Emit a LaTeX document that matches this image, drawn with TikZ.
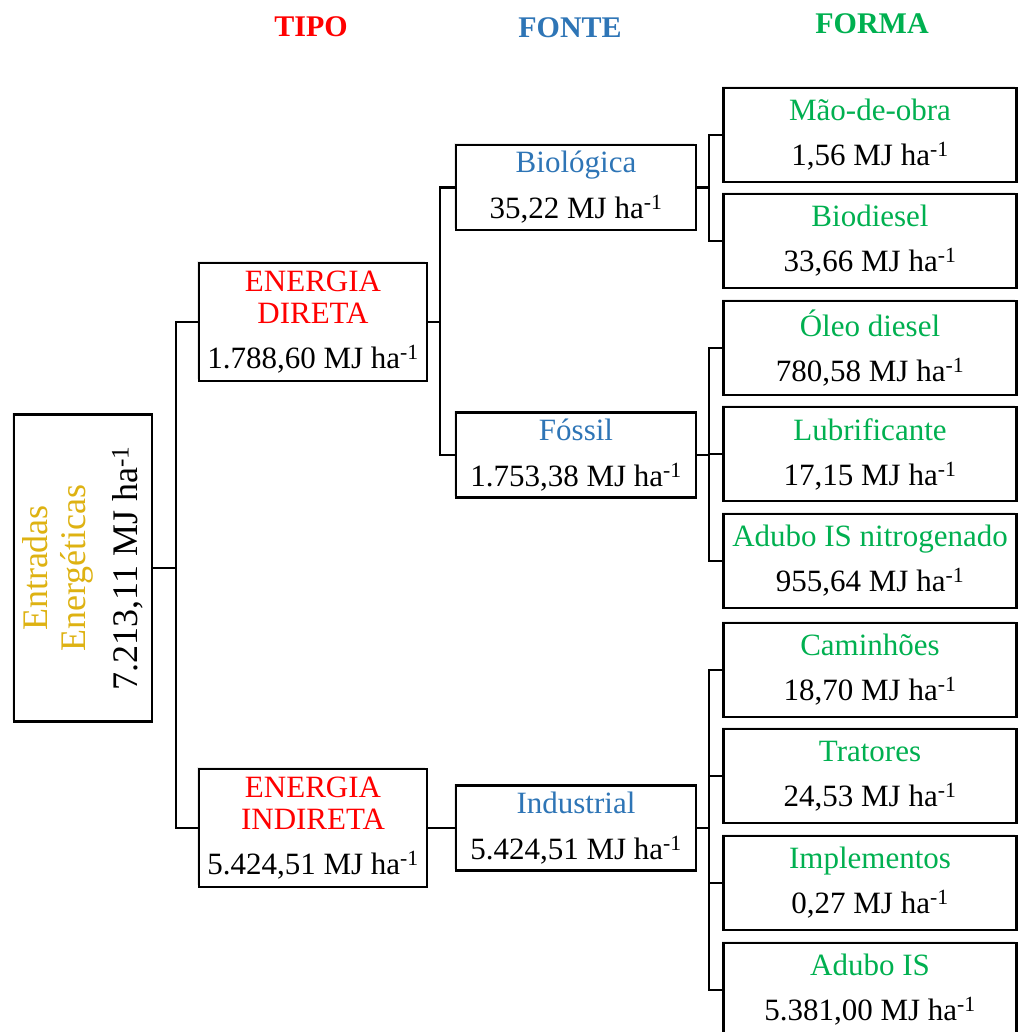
\documentclass[tikz,border=0pt]{standalone}
\usepackage{fontspec}
\setmainfont{Liberation Serif}
\usetikzlibrary{positioning,shadows}
\definecolor{tipo}{RGB}{255,0,0}
\definecolor{fonte}{RGB}{46,117,182}
\definecolor{forma}{RGB}{0,176,80}
\definecolor{ouro}{RGB}{222,178,18}
\newcommand{\mjha}[1]{#1 MJ ha\textsuperscript{-1}}
\newcommand{\rotulo}[3]{{\color{#1}#2}\\\mjha{#3}}

\begin{document}
\begin{tikzpicture}[x = 1pt, y = -1pt,
  caixa/.style = {draw, line width = 2.2pt, fill = white, align = center, inner sep = 0pt,
    drop shadow = {shadow xshift = -2pt, shadow yshift = 2pt, opacity = 0.15}},
  tipobox/.style = {caixa, minimum width = 228pt, minimum height = 118pt, font = \fontsize{31}{32}\selectfont},
  fontebox/.style = {caixa, minimum width = 240pt, minimum height = 85pt, font = \fontsize{31}{46}\selectfont},
  formabox/.style = {caixa, minimum width = 293pt, minimum height = 94pt, font = \fontsize{31}{45}\selectfont},
  liga/.style = {line width = 2.2pt},
  titulo/.style = {font = \fontsize{30}{30}\selectfont\bfseries, anchor = base}]
\useasboundingbox (0,0) rectangle (1019,1032);

\node[titulo, text = tipo] (htipo) at (311,37) {TIPO};
\node[titulo, text = fonte] (hfonte) at (570,38) {FONTE};
\node[titulo, text = forma] (hforma) at (872,34) {FORMA};

\node[caixa, minimum width = 138pt, minimum height = 307pt] (raiz) at (83,568) {};
\node[rotate = 90, align = center, font = \fontsize{36}{38}\selectfont] (raiztxt) at (raiz.center)
  {{\color{ouro}Entradas}\\{\color{ouro}Energéticas}\\[14pt]\mjha{7.213,11}};

\node[tipobox] (direta) at (313,322) {{\color{tipo}ENERGIA}\\{\color{tipo}DIRETA}\\[13pt]\mjha{1.788,60}};
\node[tipobox] (indireta) at (313,828) {{\color{tipo}ENERGIA}\\{\color{tipo}INDIRETA}\\[13pt]\mjha{5.424,51}};

\node[fontebox] (bio) at (576,187.5) {\rotulo{fonte}{Biológica}{35,22}};
\node[fontebox] (fossil) at (576,455) {\rotulo{fonte}{Fóssil}{1.753,38}};
\node[fontebox] (industrial) at (576,828) {\rotulo{fonte}{Industrial}{5.424,51}};

\node[formabox] (mao) at (870,135) {\rotulo{forma}{Mão-de-obra}{1,56}};
\node[formabox] (biodiesel) at (870,241) {\rotulo{forma}{Biodiesel}{33,66}};
\node[formabox] (oleo) at (870,348) {\rotulo{forma}{Óleo diesel}{780,58}};
\node[formabox] (lubri) at (870,454) {\rotulo{forma}{Lubrificante}{17,15}};
\node[formabox] (nitro) at (870,561) {\rotulo{forma}{Adubo IS nitrogenado}{955,64}};
\node[formabox] (caminhoes) at (870,670) {\rotulo{forma}{Caminhões}{18,70}};
\node[formabox] (tratores) at (870,776) {\rotulo{forma}{Tratores}{24,53}};
\node[formabox] (implementos) at (870,883) {\rotulo{forma}{Implementos}{0,27}};
\node[formabox] (adubo) at (870,990) {\rotulo{forma}{Adubo IS}{5.381,00}};

\foreach \n in {direta,indireta}
  \draw[liga] (raiz.east) -- ++(23,0) |- (\n.west);
\foreach \n in {bio,fossil}
  \draw[liga] (direta.east) -- ++(12,0) |- (\n.west);
\draw[liga] (indireta) -- (industrial);
\foreach \n in {mao,biodiesel}
  \draw[liga] (bio.east) -- ++(12,0) |- (\n.west);
\foreach \n in {oleo,lubri,nitro}
  \draw[liga] (fossil.east) -- ++(12,0) |- (\n.west);
\foreach \n in {caminhoes,tratores,implementos,adubo}
  \draw[liga] (industrial.east) -- ++(12,0) |- (\n.west);
\end{tikzpicture}
\end{document}
